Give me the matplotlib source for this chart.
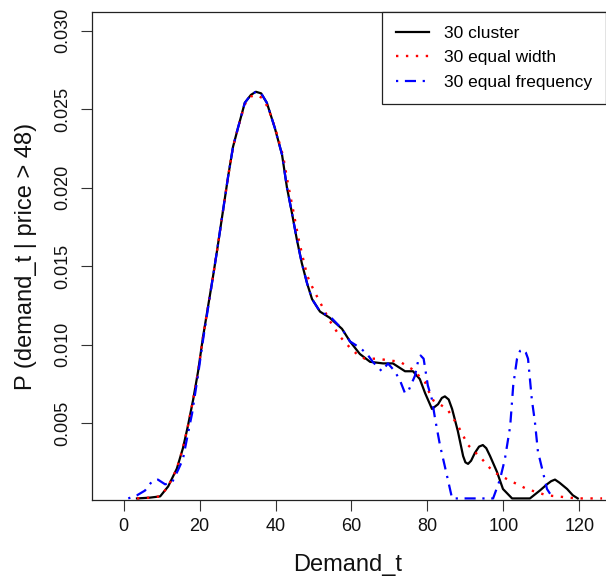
import matplotlib
matplotlib.use('Agg')
import matplotlib.pyplot as plt

plt.rcParams['font.family'] = ['Liberation Sans', 'DejaVu Sans']

# ── Data ──────────────────────────────────────────────────────────────────────

cluster_x = [3.5, 6.9, 9.6, 11.7, 14.0, 15.6, 16.9, 18.3, 19.6, 20.9,
             22.2, 23.5, 24.6, 26.2, 27.5, 28.8, 30.1, 31.9, 33.5, 34.8,
             36.2, 37.7, 39.8, 41.7, 43.0, 44.3, 45.6, 46.9, 48.3, 49.6,
             51.7, 54.3, 57.5, 59.6, 62.2, 64.9, 68.3, 70.9, 74.1, 76.2,
             78.0, 79.4, 81.2, 82.8, 83.8, 84.6, 85.6, 86.5, 88.0, 89.4,
             90.0, 90.7, 91.5, 92.5, 93.6, 94.6, 95.5, 96.5, 98.3, 99.9,
             102.3, 107.0, 109.6, 111.5, 112.6, 113.6, 114.8, 116.8, 118.3, 119.6]
cluster_y = [0.0002, 0.00025, 0.00033, 0.00096, 0.0021, 0.0034, 0.0048, 0.0065, 0.0083, 0.0105,
             0.0124, 0.0143, 0.0160, 0.0186, 0.0207, 0.0226, 0.0238, 0.0254, 0.0259, 0.0261,
             0.0260, 0.0254, 0.0238, 0.0221, 0.0200, 0.0184, 0.0167, 0.0152, 0.0139, 0.0129,
             0.0121, 0.0117, 0.0110, 0.0102, 0.0094, 0.0089, 0.0088, 0.0088, 0.0083, 0.0083,
             0.0078, 0.0069, 0.0059, 0.0062, 0.0066, 0.0067, 0.0065, 0.0059, 0.0045, 0.0029,
             0.0025, 0.0024, 0.0026, 0.0031, 0.0035, 0.0036, 0.0034, 0.0029, 0.0019, 0.0008,
             0.0002, 0.0002, 0.0007, 0.0011, 0.0013, 0.0014, 0.0012, 0.0008, 0.0004, 0.0002]

width_x = [3.5, 6.9, 9.6, 11.7, 14.0, 15.6, 16.9, 18.3, 19.6, 20.9,
           22.2, 23.5, 24.6, 26.2, 27.5, 28.8, 30.1, 31.9, 33.5, 35.0,
           36.5, 38.0, 40.0, 42.0, 43.3, 44.6, 46.0, 47.7, 48.5, 49.6,
           50.4, 51.7, 54.3, 57.0, 59.6, 61.4, 63.5, 66.7, 72.8, 76.2,
           79.4, 81.2, 85.2, 88.1, 90.7, 94.4, 97.3, 101.2, 106.2, 111.4,
           119.4, 126.0]
width_y = [0.0002, 0.00025, 0.00033, 0.00096, 0.0021, 0.0034, 0.0048, 0.0065, 0.0083, 0.0105,
           0.0124, 0.0143, 0.0160, 0.0186, 0.0207, 0.0226, 0.0238, 0.0253, 0.0258, 0.0259,
           0.0257, 0.0251, 0.0237, 0.0220, 0.0202, 0.0186, 0.0168, 0.0150, 0.0143, 0.0137,
           0.0133, 0.0127, 0.0115, 0.0105, 0.0098, 0.0094, 0.0091, 0.0091, 0.0089, 0.0084,
           0.0076, 0.0065, 0.0059, 0.0048, 0.0036, 0.0027, 0.0019, 0.0014, 0.0008, 0.0004,
           0.0002, 0.0002]

freq_x = [1.2, 3.5, 5.6, 7.5, 9.0, 10.9, 12.7, 14.3, 15.6, 16.9,
          18.0, 19.6, 20.9, 22.2, 23.5, 24.6, 26.2, 27.5, 28.8, 30.1,
          31.9, 33.5, 34.8, 36.2, 37.7, 39.8, 41.7, 43.0, 44.3, 45.6,
          46.9, 48.3, 49.6, 51.7, 54.3, 57.5, 59.6, 62.2, 64.1, 65.6,
          68.0, 69.6, 71.4, 72.8, 74.1, 74.9, 76.7, 77.5, 78.2, 79.0,
          80.1, 81.2, 82.0, 83.3, 85.1, 86.5, 97.3, 99.1, 100.4, 101.8,
          102.6, 103.6, 104.4, 105.2, 105.9, 106.5, 107.5, 108.3, 109.1, 110.2,
          111.5, 113.1]
freq_y = [0.0002, 0.0004, 0.0007, 0.0013, 0.0014, 0.0011, 0.0012, 0.0020, 0.0027, 0.0043,
          0.0056, 0.0081, 0.0103, 0.0123, 0.0143, 0.0160, 0.0186, 0.0207, 0.0226, 0.0238,
          0.0254, 0.0259, 0.0261, 0.0260, 0.0254, 0.0238, 0.0221, 0.0200, 0.0184, 0.0167,
          0.0152, 0.0139, 0.0129, 0.0121, 0.0118, 0.0110, 0.0102, 0.0098, 0.0094, 0.0089,
          0.0083, 0.0088, 0.0083, 0.0077, 0.0069, 0.0070, 0.0080, 0.0089, 0.0093, 0.0091,
          0.0074, 0.0065, 0.0053, 0.0036, 0.0017, 0.0002, 0.0002, 0.0014, 0.0027, 0.0048,
          0.0074, 0.0091, 0.0096, 0.0097, 0.0095, 0.0091, 0.0065, 0.0051, 0.0032, 0.0021,
          0.0008, 0.0002]

x_ticks = [0, 20, 40, 60, 80, 100, 120]
y_ticks = [0.005, 0.010, 0.015, 0.020, 0.025, 0.030]

# ── Plot ──────────────────────────────────────────────────────────────────────

W, H = 606, 581
fig = plt.figure(figsize=(W / 100, H / 100), dpi=100)
ax = fig.add_axes([91.7 / W, 1 - 500 / H, (607 - 91.7) / W, (500 - 11.7) / H])

ax.plot(cluster_x, cluster_y, color='black', lw=1.6, label='30 cluster')
ax.plot(width_x, width_y, color='red', lw=1.7, dashes=(1, 3.2),
        label='30 equal width')
ax.plot(freq_x, freq_y, color='blue', lw=1.6, dashes=(1, 3, 5, 3),
        label='30 equal frequency')

ax.set_xlim(-8.43, 127.3)
ax.set_ylim(0.0001, 0.0312)
ax.set_xticks(x_ticks)
ax.set_xticklabels([str(t) for t in x_ticks])
ax.set_yticks(y_ticks)
ax.set_yticklabels([f'{t:.3f}' for t in y_ticks])

ax.tick_params(axis='both', direction='out', length=8, width=0.8,
               color='#333333', labelsize=13, labelcolor='#111111')
ax.tick_params(axis='x', pad=5)
ax.tick_params(axis='y', pad=7)
for lab in ax.get_yticklabels():
    lab.set_rotation(90)
    lab.set_va('center')

for spine in ax.spines.values():
    spine.set_linewidth(0.9)
    spine.set_color('#222222')

fig.text(348 / W, 1 - 565 / H, 'Demand_t', ha='center', va='center',
         fontsize=17, color='#111111')
fig.text(26 / W, 1 - 256 / H, 'P (demand_t | price > 48)', ha='center',
         va='center', rotation=90, fontsize=17, color='#111111')

leg = ax.legend(loc='upper right', bbox_to_anchor=(606 / W, 1 - 11.7 / H),
                bbox_transform=fig.transFigure, borderaxespad=0,
                fontsize=12.5, handlelength=1.9, handletextpad=0.85,
                labelspacing=0.55, borderpad=0.8, fancybox=False,
                framealpha=1, edgecolor='#222222')
leg.get_frame().set_linewidth(0.9)

fig.savefig('out.png', dpi=100)
